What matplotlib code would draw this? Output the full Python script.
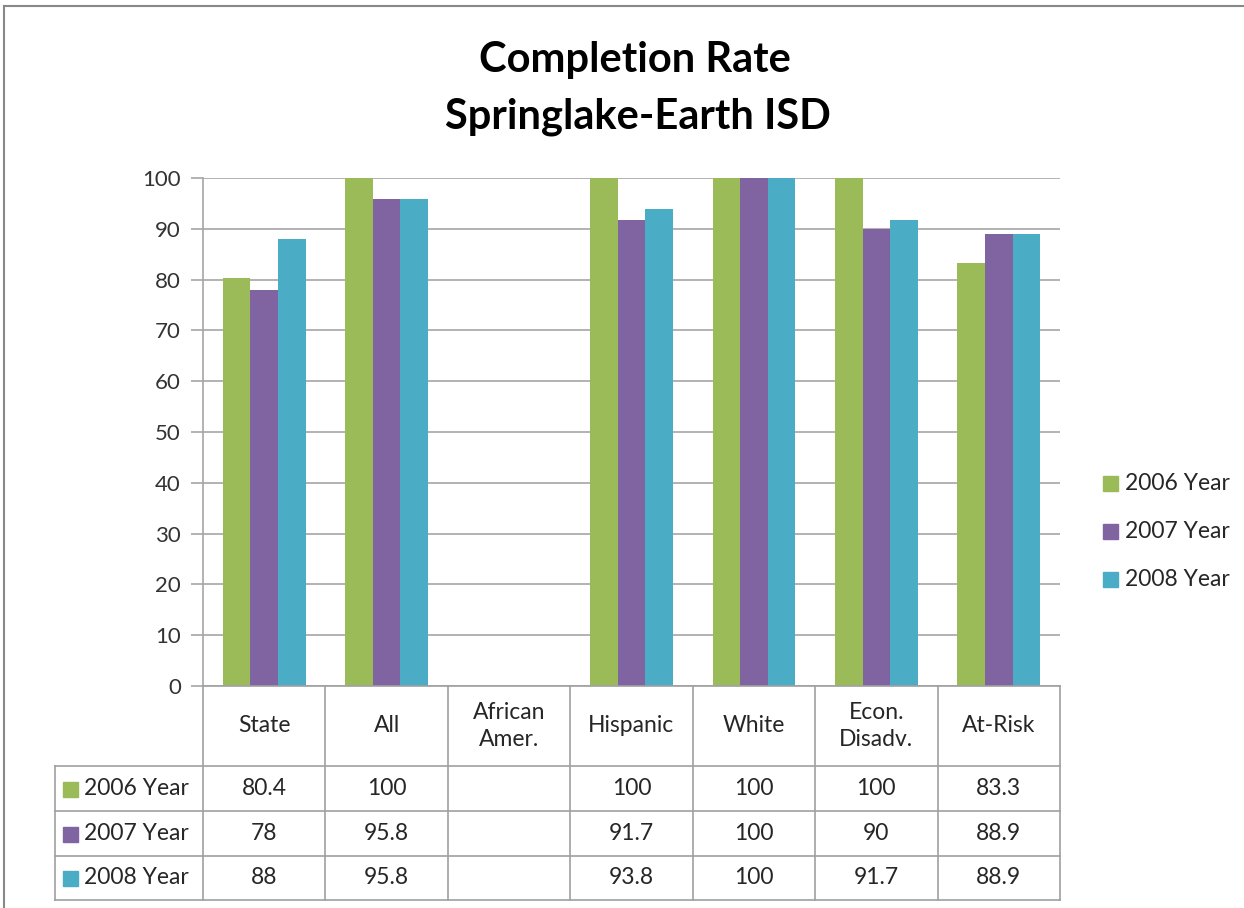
import matplotlib.pyplot as plt
import matplotlib.transforms as mtransforms
from matplotlib.patches import Rectangle
from matplotlib.lines import Line2D
import numpy as np

plt.rcParams['font.family'] = ['Lato', 'DejaVu Sans']

categories = ["State", "All", "African\nAmer.", "Hispanic", "White", "Econ.\nDisadv.", "At-Risk"]
series = ["2006 Year", "2007 Year", "2008 Year"]
y2006 = [80.4, 100, np.nan, 100, 100, 100, 83.3]
y2007 = [78, 95.8, np.nan, 91.7, 100, 90, 88.9]
y2008 = [88, 95.8, np.nan, 93.8, 100, 91.7, 88.9]
colors = ["#9BBB59", "#8064A2", "#4BACC6"]

W, H = 1244, 908
fig = plt.figure(figsize=(W / 100, H / 100), dpi=100)

def fy(py):
    return 1 - py / H

# plot area in pixels
left, right, top, bottom = 203, 1060, 178, 686
ax = fig.add_axes([left / W, fy(bottom), (right - left) / W, (bottom - top) / H])

x = np.arange(len(categories))
bw = 0.225
for i, (vals, c) in enumerate(zip([y2006, y2007, y2008], series)):
    ax.bar(x + (i - 1) * bw, vals, bw, color=colors[i], label=c, zorder=3)

ax.set_xlim(-0.5, len(categories) - 0.5)
ax.set_ylim(0, 100)
ax.set_yticks(range(0, 101, 10))
ax.set_xticks([])
ax.yaxis.grid(True, color="#a6a6a6", linewidth=1.2, zorder=0)
for s in ["top", "right", "bottom"]:
    ax.spines[s].set_visible(False)
ax.spines["left"].set_color("#a6a6a6")
ax.spines["left"].set_linewidth(1.2)
ax.tick_params(axis="y", colors="#a6a6a6", labelcolor="#333333", labelsize=16,
               length=9, width=1.2, pad=7)

# data table
tr = mtransforms.blended_transform_factory(ax.transData, fig.transFigure)
line_col = "#a0a0a0"
row_edges = [686, 766, 811, 856, 900]
lab_left = -0.5 - (left - 55) / ((right - left) / len(categories))

ax_l = -0.5
ax_r = len(categories) - 0.5
fig.add_artist(Line2D([ax_l, ax_r], [fy(row_edges[0])] * 2, transform=tr, color=line_col, lw=1.2))
for py in row_edges[1:]:
    fig.add_artist(Line2D([lab_left, ax_r], [fy(py)] * 2, transform=tr, color=line_col, lw=1.2))
for k in range(len(categories) + 1):
    xv = k - 0.5
    fig.add_artist(Line2D([xv, xv], [fy(row_edges[0]), fy(row_edges[-1])], transform=tr,
                          color=line_col, lw=1.2))
fig.add_artist(Line2D([lab_left, lab_left], [fy(row_edges[1]), fy(row_edges[-1])], transform=tr,
                      color=line_col, lw=1.2))

txt_col = "#262626"
fs = 16.5
for k, cat in enumerate(categories):
    fig.text(k, fy((row_edges[0] + row_edges[1]) / 2), cat, transform=tr, ha="center",
             va="center", fontsize=fs, color=txt_col, linespacing=1.3)

for r, (vals, name) in enumerate(zip([y2006, y2007, y2008], series)):
    yc = fy((row_edges[r + 1] + row_edges[r + 2]) / 2)
    for k, v in enumerate(vals):
        if np.isnan(v):
            continue
        fig.text(k, yc, f"{v:g}", transform=tr, ha="center", va="center", fontsize=fs,
                 color=txt_col)
    fig.add_artist(Rectangle((63 / W, yc - 8 / H), 15 / W, 15 / H, transform=fig.transFigure,
                             color=colors[r]))
    fig.text(84 / W, yc, name, ha="left", va="center", fontsize=fs, color=txt_col)

# legend
for r, name in enumerate(series):
    yc = fy(483 + 48 * r)
    fig.add_artist(Rectangle((1103 / W, yc - 8 / H), 15 / W, 15 / H, transform=fig.transFigure,
                             color=colors[r]))
    fig.text(1125 / W, yc, name, ha="left", va="center", fontsize=fs, color=txt_col)

# title
fig.text(635 / W, fy(60), "Completion Rate", ha="center", va="center", fontsize=30,
         fontweight="bold", color="black")
fig.text(638 / W, fy(117), "Springlake-Earth ISD", ha="center", va="center", fontsize=30,
         fontweight="bold", color="black")

# chart border
fig.add_artist(Line2D([4 / W, 4 / W], [0, fy(6)], transform=fig.transFigure, color="#888888", lw=1.5))
fig.add_artist(Line2D([4 / W, 1], [fy(6), fy(6)], transform=fig.transFigure, color="#888888", lw=1.5))

fig.savefig("out.png", dpi=100, facecolor="white")
